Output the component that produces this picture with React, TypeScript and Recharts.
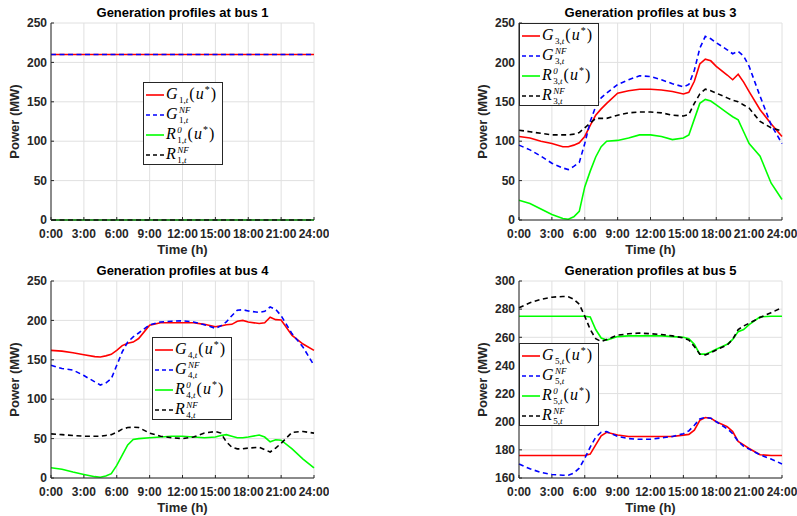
import { LineChart, Line, XAxis, YAxis, CartesianGrid, Legend } from "recharts";

// sample times (hours)
const HOURS = [0, 1, 2, 3, 4, 4.5, 5, 5.5, 6, 6.5, 7, 7.5, 8, 9, 10, 11, 12, 13, 14, 15, 15.5, 16, 16.5, 17, 17.5, 18, 19, 19.5, 20, 20.5, 21, 22, 23, 24];

const X_TICKS = [0, 3, 6, 9, 12, 15, 18, 21, 24];
const X_TICK_LABELS = ["0:00", "3:00", "6:00", "9:00", "12:00", "15:00", "18:00", "21:00", "24:00"];
const Y_TICKS = [0, 50, 100, 150, 200, 250];
const Y_TICKS_BUS5 = [160, 180, 200, 220, 240, 260, 280, 300];

// bus 1
const G1 = [210, 210, 210, 210, 210, 210, 210, 210, 210, 210, 210, 210, 210, 210, 210, 210, 210, 210, 210, 210, 210, 210, 210, 210, 210, 210, 210, 210, 210, 210, 210, 210, 210, 210];
const G1_NF = [210, 210, 210, 210, 210, 210, 210, 210, 210, 210, 210, 210, 210, 210, 210, 210, 210, 210, 210, 210, 210, 210, 210, 210, 210, 210, 210, 210, 210, 210, 210, 210, 210, 210];
const R1 = [0, 0, 0, 0, 0, 0, 0, 0, 0, 0, 0, 0, 0, 0, 0, 0, 0, 0, 0, 0, 0, 0, 0, 0, 0, 0, 0, 0, 0, 0, 0, 0, 0, 0];
const R1_NF = [0, 0, 0, 0, 0, 0, 0, 0, 0, 0, 0, 0, 0, 0, 0, 0, 0, 0, 0, 0, 0, 0, 0, 0, 0, 0, 0, 0, 0, 0, 0, 0, 0, 0];

// bus 3
const G3 = [106, 104, 100, 97, 93, 93, 95, 98, 106, 120, 133, 141, 148, 161, 164, 166, 166, 165, 163, 160, 162, 176, 198, 204, 202, 195, 184, 178, 185, 175, 163, 140, 122, 106];
const G3_NF = [95, 89, 81, 72, 66, 64, 68, 73, 97, 125, 144, 155, 161, 172, 178, 183, 182, 178, 173, 169, 172, 190, 218, 233, 230, 225, 216, 211, 214, 208, 195, 157, 121, 97];
const R3 = [25, 21, 14, 7, 2, 1, 4, 11, 42, 62, 80, 93, 100, 101, 104, 108, 108, 106, 102, 104, 108, 128, 148, 153, 151, 146, 136, 131, 127, 112, 97, 81, 47, 26];
const R3_NF = [114, 112, 110, 108, 108, 108, 109, 111, 117, 123, 129, 129, 129, 133, 136, 137, 137, 136, 133, 132, 134, 148, 160, 166, 164, 161, 155, 152, 150, 146, 142, 125, 117, 113];

// bus 4
const G4 = [162, 161, 159, 156.5, 154, 153.5, 155, 157, 162, 168, 171, 172.5, 177, 194, 197, 197, 197, 197, 195, 192, 193, 194.5, 195, 199, 200, 198, 196, 197, 204, 201, 200.5, 181, 170, 162];
const G4_NF = [143, 139, 137, 130, 122, 118, 120.5, 126, 143, 160, 172.5, 179, 184, 194.5, 198, 199, 199.5, 198, 194.5, 190, 193, 198, 206, 213, 213.5, 212, 210, 211.5, 217, 214, 206, 183, 166, 143];
const R4 = [13, 11, 7.5, 4.5, 1.7, 1, 2.5, 5.5, 16, 29, 42, 49, 50, 51, 52, 53, 53, 52, 51, 52, 54, 55, 53, 51, 51, 52, 54.5, 52, 46, 48.5, 48, 37, 24, 13];
const R4_NF = [56, 55, 54, 53, 53, 53, 54, 55, 58, 62, 64, 64.5, 64, 57, 53, 51, 50, 52, 57, 59, 57, 46, 39, 37, 37, 38, 39, 36, 33, 38, 44, 58, 59, 57];

// bus 5
const G5 = [176, 176, 176, 176, 176, 176, 176, 176, 176, 177, 183.5, 190, 192.5, 190.5, 189.5, 189.5, 189.5, 189.5, 189.5, 190.5, 191, 194, 201, 203, 202.5, 200, 196.5, 193, 186, 183.5, 181, 176.5, 176, 176];
const G5_NF = [170, 166.5, 164, 162.5, 162, 162, 163.5, 167, 174, 182, 189, 192.5, 193, 189.5, 188, 187.5, 187.5, 188.5, 189.5, 191.5, 193.5, 197.5, 202, 203, 202.5, 200, 195, 191.5, 186, 182.5, 180.5, 176.5, 173.5, 170];
const R5 = [275, 275, 275, 275, 275, 275, 275, 275, 275, 274.5, 265.5, 259.5, 258, 260.5, 261, 261, 261, 261, 260.5, 260, 259, 255, 248, 248, 249.5, 251.5, 255, 258.5, 264, 265.5, 269, 274.5, 275, 275];
const R5_NF = [281, 284.5, 287, 288.5, 289, 288.8, 287, 283.5, 275, 265.5, 259, 257, 258.5, 261.5, 262.5, 263, 262.5, 262, 261, 259.5, 258, 253.5, 248, 247.5, 249, 251, 254.5, 258.5, 265.5, 268, 270, 274, 277.5, 281];

const AXIS = "#262626";
const SANS = '"Liberation Sans", Arial, sans-serif';
const MATH = '"Liberation Serif", "Times New Roman", serif';

const SERIES = [
  { key: "g", color: "#ff0000", dash: undefined, sym: "G", sup: "", tail: true },
  { key: "gnf", color: "#0000ff", dash: "5 3.5", sym: "G", sup: "NF", tail: false },
  { key: "r", color: "#00ff00", dash: undefined, sym: "R", sup: "0", tail: true },
  { key: "rnf", color: "#000000", dash: "5 3.5", sym: "R", sup: "NF", tail: false },
];

const buildRows = (g: number[], gnf: number[], r: number[], rnf: number[]) =>
  HOURS.map((h, i) => ({ h, g: g[i], gnf: gnf[i], r: r[i], rnf: rnf[i] }));

// LaTeX-like label, e.g. G^{NF}_{3,t} or R^0_{3,t}(u^*)
const Sub = ({ bus }: any) => (
  <span>
    <span style={{ fontStyle: "normal" }}>{bus},</span>t
  </span>
);

const MathLabel = ({ sym, sup, bus, tail }: any) => (
  <span style={{ fontFamily: MATH, fontStyle: "italic", fontWeight: "normal", fontSize: 16, whiteSpace: "nowrap", lineHeight: "17px" }}>
    {sym}
    {sup ? (
      <span
        style={{
          display: "inline-flex",
          flexDirection: "column",
          fontSize: 9,
          lineHeight: "10px",
          verticalAlign: "6.5px",
          marginLeft: 1.5,
          marginRight: 1,
        }}
      >
        <span>{sup}</span>
        <Sub bus={bus} />
      </span>
    ) : (
      <span style={{ fontSize: 9, lineHeight: "10px", verticalAlign: "-3.5px", marginLeft: 1.5, marginRight: 1 }}>
        <Sub bus={bus} />
      </span>
    )}
    {tail && (
      <span style={{ letterSpacing: 1 }}>
        <span style={{ fontStyle: "normal" }}>(</span>u
        <span style={{ fontStyle: "normal", fontSize: 10, lineHeight: "10px", verticalAlign: "6.5px" }}>*</span>
        <span style={{ fontStyle: "normal" }}>)</span>
      </span>
    )}
  </span>
);

const makeLegend = (bus: number) => () => (
  <div
    style={{
      boxSizing: "border-box",
      width: 80,
      height: 83,
      border: `1px solid ${AXIS}`,
      background: "#fff",
      paddingTop: 1.5,
      fontWeight: "normal",
      color: "#000",
    }}
  >
    {SERIES.map((s) => (
      <div key={s.key} style={{ height: 20, display: "flex", alignItems: "center" }}>
        <svg width={21} height={4} style={{ flex: "none" }}>
          <line x1={2} y1={2} x2={20} y2={2} stroke={s.color} strokeWidth={1.6} strokeDasharray={s.dash ? "4 3" : undefined} />
        </svg>
        <span style={{ marginLeft: 1 }}>
          <MathLabel sym={s.sym} sup={s.sup} bus={bus} tail={s.tail} />
        </span>
      </div>
    ))}
  </div>
);

const yLabel = (props: any) => {
  const vb = props.viewBox;
  const cx = vb.x + 14.5;
  const cy = vb.y + vb.height / 2;
  return (
    <text x={cx} y={cy} transform={`rotate(-90 ${cx} ${cy})`} textAnchor="middle" dominantBaseline="central" fontSize={13} fontWeight="bold" fill={AXIS}>
      Power (MW)
    </text>
  );
};

const noTick = () => <g />;

const PLOT_W = 263;
const PLOT_H = 197;

const Panel = ({ title, bus, plotLeft, plotTop, rows, yDomain, yTicks, legendLeft, legendTop }: any) => {
  const W = 51 + PLOT_W + 15;
  const H = 23 + PLOT_H + 40;
  return (
    <div style={{ position: "absolute", left: plotLeft - 51, top: plotTop - 23, width: W, height: H, fontFamily: SANS, fontWeight: "bold" }}>
      <div style={{ position: "absolute", left: 51, width: PLOT_W, top: 5, textAlign: "center", fontSize: 13, lineHeight: "16px", color: "#000" }}>
        {title}
      </div>
      <LineChart width={W} height={H} data={rows} margin={{ top: 23, right: 15, bottom: 0, left: 0 }}>
        <CartesianGrid stroke="#e0e0e0" strokeWidth={1} />
        <XAxis
          dataKey="h"
          type="number"
          domain={[0, 24]}
          ticks={X_TICKS}
          interval={0}
          tickFormatter={(v: number) => X_TICK_LABELS[X_TICKS.indexOf(v)]}
          height={40}
          tickSize={-3}
          tickMargin={12.5}
          axisLine={{ stroke: AXIS }}
          tickLine={{ stroke: AXIS }}
          tick={{ fill: AXIS, fontSize: 12, fontWeight: "bold" }}
          label={{ value: "Time (h)", position: "insideBottom", offset: 6, fill: AXIS, fontSize: 13, fontWeight: "bold" }}
        />
        <XAxis
          xAxisId="top"
          orientation="top"
          dataKey="h"
          type="number"
          domain={[0, 24]}
          ticks={X_TICKS}
          interval={0}
          height={0}
          tickSize={-3}
          axisLine={{ stroke: AXIS }}
          tickLine={{ stroke: AXIS }}
          tick={noTick}
        />
        <YAxis
          type="number"
          domain={yDomain}
          ticks={yTicks}
          interval={0}
          width={51}
          tickSize={-3}
          tickMargin={7}
          axisLine={{ stroke: AXIS }}
          tickLine={{ stroke: AXIS }}
          tick={{ fill: AXIS, fontSize: 12, fontWeight: "bold" }}
          label={{ content: yLabel }}
        />
        <YAxis
          yAxisId="right"
          orientation="right"
          type="number"
          domain={yDomain}
          ticks={yTicks}
          interval={0}
          width={0}
          tickSize={-3}
          axisLine={{ stroke: AXIS }}
          tickLine={{ stroke: AXIS }}
          tick={noTick}
        />
        <Legend
          layout="vertical"
          align="center"
          verticalAlign="middle"
          content={makeLegend(bus)}
          wrapperStyle={{ left: legendLeft, top: legendTop, width: 80, height: 83 }}
        />
        {SERIES.map((s) => (
          <Line
            key={s.key}
            dataKey={s.key}
            type="linear"
            stroke={s.color}
            strokeWidth={1.6}
            strokeDasharray={s.dash}
            dot={false}
            activeDot={false}
            isAnimationActive={false}
          />
        ))}
      </LineChart>
    </div>
  );
};

export default function App() {
  return (
    <div style={{ position: "absolute", left: 0, top: 0, width: 797, height: 516, overflow: "hidden", background: "#fff" }}>
      <Panel
        title="Generation profiles at bus 1"
        bus={1}
        plotLeft={51}
        plotTop={23}
        rows={buildRows(G1, G1_NF, R1, R1_NF)}
        yDomain={[0, 250]}
        yTicks={Y_TICKS}
        legendLeft={143}
        legendTop={82}
      />
      <Panel
        title="Generation profiles at bus 3"
        bus={3}
        plotLeft={519}
        plotTop={23}
        rows={buildRows(G3, G3_NF, R3, R3_NF)}
        yDomain={[0, 250]}
        yTicks={Y_TICKS}
        legendLeft={51}
        legendTop={23}
      />
      <Panel
        title="Generation profiles at bus 4"
        bus={4}
        plotLeft={51}
        plotTop={281}
        rows={buildRows(G4, G4_NF, R4, R4_NF)}
        yDomain={[0, 250]}
        yTicks={Y_TICKS}
        legendLeft={152}
        legendTop={79}
      />
      <Panel
        title="Generation profiles at bus 5"
        bus={5}
        plotLeft={519}
        plotTop={281}
        rows={buildRows(G5, G5_NF, R5, R5_NF)}
        yDomain={[160, 300]}
        yTicks={Y_TICKS_BUS5}
        legendLeft={51}
        legendTop={85}
      />
    </div>
  );
}
